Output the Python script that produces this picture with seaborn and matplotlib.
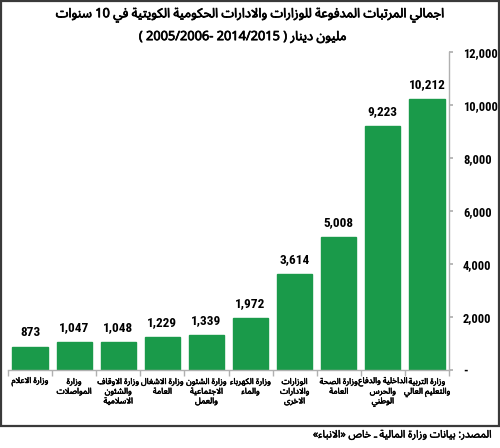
import re
import numpy as np
import pandas as pd
import seaborn as sns
import matplotlib.pyplot as plt
import matplotlib.patheffects as pe
from matplotlib.patches import Rectangle
from matplotlib.ticker import FixedLocator

# ---------------- donnees ----------------
ministries = ["وزارة الاعلام",
              "وزارة\nالمواصلات",
              "وزارة الاوقاف\nوالشئون\nالاسلامية",
              "وزارة الاشغال\nالعامة",
              "وزارة الشئون\nالاجتماعية\nوالعمل",
              "وزارة الكهرباء\nوالماء",
              "الوزارات\nوالادارات\nالاخرى",
              "وزارة الصحة\nالعامة",
              "الداخلية والدفاع\nوالحرس\nالوطني",
              "وزارة التربية\nوالتعليم العالي"]
salaries = [873, 1047, 1048, 1229, 1339, 1972, 3614, 5008, 9223, 10212]
yticks = [0, 2000, 4000, 6000, 8000, 10000, 12000]

title_l1 = "اجمالي المرتبات المدفوعة للوزارات والادارات الحكومية الكويتية في 10 سنوات"
title_l2 = "مليون دينار ( 2014/2015 -2005/2006 )"
source = "المصدر: بيانات وزارة المالية ـ خاص «الانباء»"

# ---------------- mise en forme arabe (matplotlib ne fait pas le shaping) ----------------
BASE = {'ء': 0xFE80, 'آ': 0xFE81, 'أ': 0xFE83, 'ؤ': 0xFE85, 'إ': 0xFE87, 'ئ': 0xFE89,
        'ا': 0xFE8D, 'ب': 0xFE8F, 'ة': 0xFE93, 'ت': 0xFE95, 'ث': 0xFE99, 'ج': 0xFE9D,
        'ح': 0xFEA1, 'خ': 0xFEA5, 'د': 0xFEA9, 'ذ': 0xFEAB, 'ر': 0xFEAD, 'ز': 0xFEAF,
        'س': 0xFEB1, 'ش': 0xFEB5, 'ص': 0xFEB9, 'ض': 0xFEBD, 'ط': 0xFEC1, 'ظ': 0xFEC5,
        'ع': 0xFEC9, 'غ': 0xFECD, 'ف': 0xFED1, 'ق': 0xFED5, 'ك': 0xFED9, 'ل': 0xFEDD,
        'م': 0xFEE1, 'ن': 0xFEE5, 'ه': 0xFEE9, 'و': 0xFEED, 'ى': 0xFEEF, 'ي': 0xFEF1}
LAM_ALEF = {'آ': 0xFEF5, 'أ': 0xFEF7, 'إ': 0xFEF9, 'ا': 0xFEFB}
RIGHT_ONLY = set('آأؤإاةدذرزوى')


def dual(c):
    return c in BASE and c not in RIGHT_ONLY and c != 'ء'


def shape(s):
    out = []
    i = 0
    while i < len(s):
        c = s[i]
        if c not in BASE:
            out.append(c)
            i += 1
            continue
        pj = i > 0 and dual(s[i - 1])
        if c == 'ل' and i + 1 < len(s) and s[i + 1] in LAM_ALEF:
            out.append(chr(LAM_ALEF[s[i + 1]] + (1 if pj else 0)))
            i += 2
            continue
        nxt = s[i + 1] if i + 1 < len(s) else ''
        nj = dual(c) and nxt in BASE and nxt != 'ء'
        b = BASE[c]
        if c == 'ء':
            code = b
        elif c in RIGHT_ONLY:
            code = b + (1 if pj else 0)
        elif pj and nj:
            code = b + 3
        elif pj:
            code = b + 1
        elif nj:
            code = b + 2
        else:
            code = b
        out.append(chr(code))
        i += 1
    return ''.join(out)


def rtl(s):
    lines = []
    for line in s.split('\n'):
        t = shape(line)[::-1]
        t = re.sub(r'[0-9][0-9/,.\-]*[0-9]|[0-9]', lambda m: m.group(0)[::-1], t)
        t = t.translate(str.maketrans('()«»', ')(»«'))
        lines.append(t)
    return '\n'.join(lines)


# ---------------- figure ----------------
df = pd.DataFrame({"ministry": [rtl(m) for m in ministries], "value": salaries})

sns.set_theme(style="white")
AR = ['Noto Sans Arabic', 'DejaVu Sans']
NUM = ['Roboto Condensed', 'Liberation Sans', 'DejaVu Sans']
plt.rcParams['font.family'] = AR


def gras(lw):
    # faux gras : la police arabe n'a qu'une graisse
    return [pe.withStroke(linewidth=lw, foreground="black")]


fig = plt.figure(figsize=(5, 4.48), dpi=100)
ax = fig.add_axes([0.016, 0.174, 0.882, 0.71])

green = "#1a9a4a"
sns.barplot(data=df, x="ministry", y="value", color=green, width=0.8,
            saturation=1, ax=ax, edgecolor=green)

for i, v in enumerate(salaries):
    ax.text(i, v + 300, f"{v:,}", ha="center", va="bottom", fontsize=9.5,
            fontweight="bold", family=NUM, color="black")

ax.set_ylim(0, 12000)
ax.set_xlim(-0.5, len(salaries) - 0.5)
ax.yaxis.tick_right()
ax.set_yticks(yticks)
ax.set_yticklabels(["-" if t == 0 else f"{t:,}" for t in yticks],
                   fontsize=9, fontweight="bold", family=NUM, color="black")
ax.tick_params(axis="y", length=3, color="#b0b0b0", pad=7, direction="out", right=True)

ax.set_xticks(range(len(salaries)))
ax.set_xticklabels(df["ministry"], fontsize=5.9, family=AR,
                   linespacing=1.1, color="black")
for lab in ax.get_xticklabels():
    lab.set_path_effects(gras(0.35))
ax.tick_params(axis="x", length=0, pad=5)
ax.xaxis.set_minor_locator(FixedLocator(np.arange(-0.5, len(salaries), 1.0)))
ax.tick_params(axis="x", which="minor", length=4, color="#b0b0b0", bottom=True)

ax.set_xlabel("")
ax.set_ylabel("")
for s in ["top", "left"]:
    ax.spines[s].set_visible(False)
for s in ["right", "bottom"]:
    ax.spines[s].set_color("#b0b0b0")
    ax.spines[s].set_linewidth(1)
ax.grid(False)

fig.text(0.5, 0.966, rtl(title_l1), ha="center", va="center", fontsize=9.2,
         family=AR, color="black", path_effects=gras(0.5))
fig.text(0.485, 0.918, rtl(title_l2), ha="center", va="center", fontsize=9.2,
         family=AR, color="black", path_effects=gras(0.5))
fig.text(0.984, 0.029, rtl(source), ha="right", va="center", fontsize=7.5,
         family=AR, color="black", path_effects=gras(0.3))

fig.patches.append(Rectangle((0.002, 22 / 448), 0.995, 1 - 22 / 448 - 0.002,
                             transform=fig.transFigure, fill=False,
                             edgecolor="#3a3a3a", linewidth=1.6))

fig.savefig("out.png", dpi=100)
